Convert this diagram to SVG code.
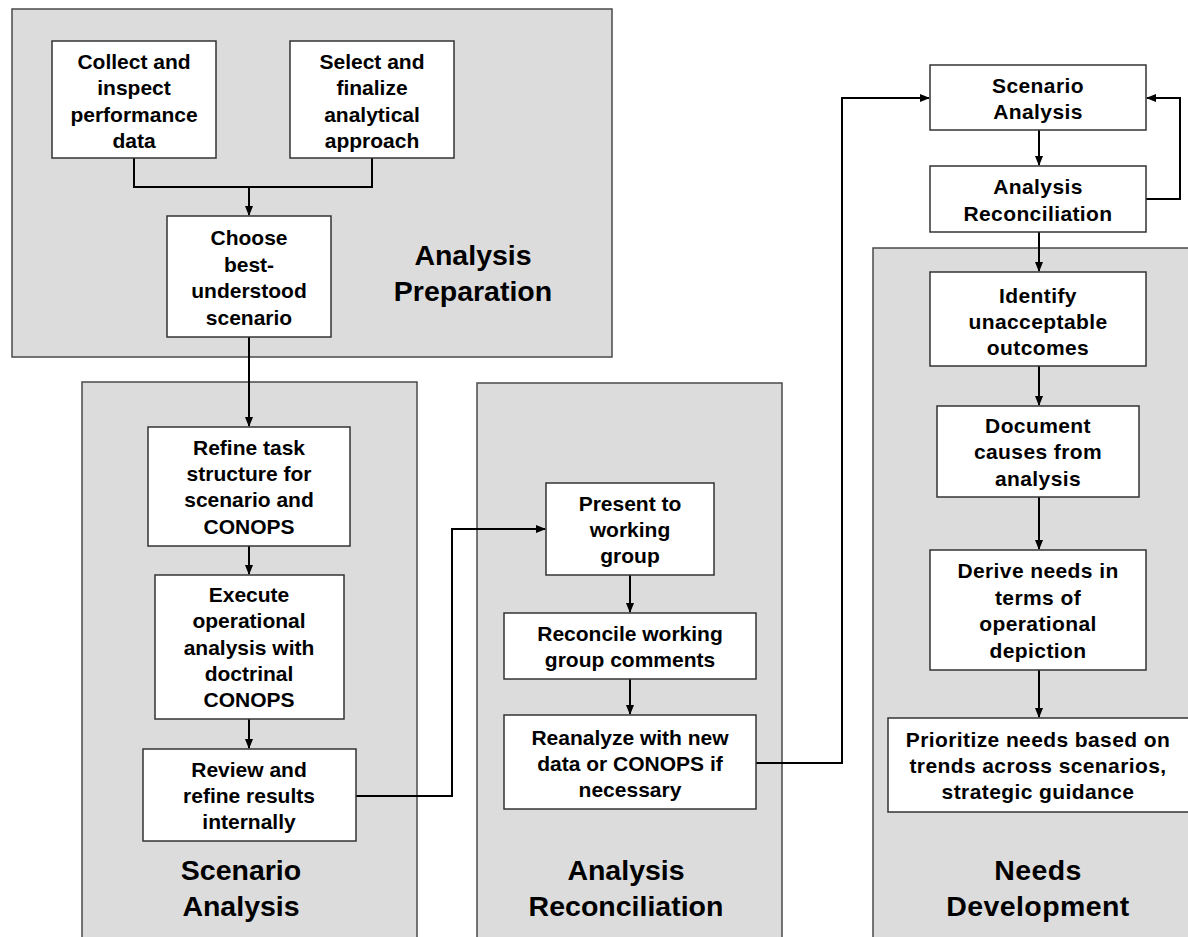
<svg xmlns="http://www.w3.org/2000/svg" width="1188" height="937" viewBox="0 0 1188 937">
<defs>
<marker id="ah" markerWidth="10" markerHeight="10" refX="9" refY="5" orient="auto" markerUnits="userSpaceOnUse">
<path d="M0,1 L10,5 L0,9 Z" fill="#000"/>
</marker>
<style>
.panel{fill:#dcdcdc;stroke:#4a4a4a;stroke-width:1.5}
.box{fill:#fff;stroke:#333;stroke-width:1.5}
.t{font-family:"Liberation Sans",Arial,sans-serif;font-weight:bold;font-size:21px;fill:#000;text-anchor:middle}
.r{letter-spacing:0.4px}
.title{font-family:"Liberation Sans",Arial,sans-serif;font-weight:bold;font-size:28.5px;fill:#000;text-anchor:middle}
.c{fill:none;stroke:#000;stroke-width:2}
</style>
</defs>
<rect width="1188" height="937" fill="#fff"/>
<g id="panels">
<g id="panel-prep"><rect class="panel" x="12" y="9" width="600" height="348"/>
<text class="title" x="473" y="265">Analysis</text><text class="title" x="473" y="301">Preparation</text></g>
<g id="panel-scen"><rect class="panel" x="82" y="382" width="335" height="560"/>
<text class="title" x="241" y="880">Scenario</text><text class="title" x="241" y="916">Analysis</text></g>
<g id="panel-recon"><rect class="panel" x="477" y="383" width="305" height="560"/>
<text class="title" x="626" y="880">Analysis</text><text class="title" x="626" y="916">Reconciliation</text></g>
<g id="panel-needs"><rect class="panel" x="873" y="248" width="320" height="695"/>
<text class="title r" x="1038" y="880">Needs</text><text class="title r" x="1038" y="916">Development</text></g>
</g>
<g id="connectors">
<polyline class="c" points="134,158 134,187 372,187 372,158"/>
<line class="c" x1="249" y1="187" x2="249" y2="215" marker-end="url(#ah)"/>
<line class="c" x1="249" y1="337" x2="249" y2="426" marker-end="url(#ah)"/>
<line class="c" x1="249" y1="546" x2="249" y2="574" marker-end="url(#ah)"/>
<line class="c" x1="249" y1="719" x2="249" y2="748" marker-end="url(#ah)"/>
<polyline class="c" points="356,796 452,796 452,529 545,529" marker-end="url(#ah)"/>
<line class="c" x1="630" y1="575" x2="630" y2="612" marker-end="url(#ah)"/>
<line class="c" x1="630" y1="679" x2="630" y2="714" marker-end="url(#ah)"/>
<polyline class="c" points="756,763 842,763 842,98 929,98" marker-end="url(#ah)"/>
<line class="c" x1="1039" y1="130" x2="1039" y2="165" marker-end="url(#ah)"/>
<polyline class="c" points="1146,199 1180,199 1180,98 1147,98" marker-end="url(#ah)"/>
<line class="c" x1="1039" y1="232" x2="1039" y2="271" marker-end="url(#ah)"/>
<line class="c" x1="1039" y1="366" x2="1039" y2="405" marker-end="url(#ah)"/>
<line class="c" x1="1039" y1="497" x2="1039" y2="549" marker-end="url(#ah)"/>
<line class="c" x1="1039" y1="670" x2="1039" y2="717" marker-end="url(#ah)"/>
</g>
<g id="n-collect"><rect class="box" x="52" y="41" width="164" height="117"/>
<text class="t" x="134" y="69">Collect and</text><text class="t" x="134" y="95">inspect</text><text class="t" x="134" y="122">performance</text><text class="t" x="134" y="148">data</text></g>
<g id="n-select"><rect class="box" x="290" y="41" width="164" height="117"/>
<text class="t" x="372" y="69">Select and</text><text class="t" x="372" y="95">finalize</text><text class="t" x="372" y="122">analytical</text><text class="t" x="372" y="148">approach</text></g>
<g id="n-choose"><rect class="box" x="167" y="216" width="164" height="121"/>
<text class="t" x="249" y="245">Choose</text><text class="t" x="249" y="272">best-</text><text class="t" x="249" y="298">understood</text><text class="t" x="249" y="325">scenario</text></g>
<g id="n-refine"><rect class="box" x="148" y="427" width="202" height="119"/>
<text class="t" x="249" y="455">Refine task</text><text class="t" x="249" y="481">structure for</text><text class="t" x="249" y="507">scenario and</text><text class="t" x="249" y="534">CONOPS</text></g>
<g id="n-execute"><rect class="box" x="155" y="575" width="189" height="144"/>
<text class="t" x="249" y="602">Execute</text><text class="t" x="249" y="628">operational</text><text class="t" x="249" y="655">analysis with</text><text class="t" x="249" y="681">doctrinal</text><text class="t" x="249" y="707">CONOPS</text></g>
<g id="n-review"><rect class="box" x="143" y="749" width="213" height="92"/>
<text class="t" x="249" y="777">Review and</text><text class="t" x="249" y="803">refine results</text><text class="t" x="249" y="829">internally</text></g>
<g id="n-present"><rect class="box" x="546" y="483" width="168" height="92"/>
<text class="t" x="630" y="511">Present to</text><text class="t" x="630" y="537">working</text><text class="t" x="630" y="563">group</text></g>
<g id="n-reconcile"><rect class="box" x="504" y="613" width="252" height="66"/>
<text class="t" x="630" y="641">Reconcile working</text><text class="t" x="630" y="667">group comments</text></g>
<g id="n-reanalyze"><rect class="box" x="504" y="715" width="252" height="94"/>
<text class="t" x="630" y="745">Reanalyze with new</text><text class="t" x="630" y="771">data or CONOPS if</text><text class="t" x="630" y="797">necessary</text></g>
<g id="n-scen-small"><rect class="box" x="930" y="65" width="216" height="65"/>
<text class="t r" x="1038" y="93">Scenario</text><text class="t r" x="1038" y="119">Analysis</text></g>
<g id="n-recon-small"><rect class="box" x="930" y="166" width="216" height="66"/>
<text class="t r" x="1038" y="194">Analysis</text><text class="t r" x="1038" y="221">Reconciliation</text></g>
<g id="n-identify"><rect class="box" x="930" y="272" width="216" height="94"/>
<text class="t r" x="1038" y="303">Identify</text><text class="t r" x="1038" y="329">unacceptable</text><text class="t r" x="1038" y="355">outcomes</text></g>
<g id="n-document"><rect class="box" x="937" y="406" width="202" height="91"/>
<text class="t r" x="1038" y="433">Document</text><text class="t r" x="1038" y="459">causes from</text><text class="t r" x="1038" y="486">analysis</text></g>
<g id="n-derive"><rect class="box" x="930" y="550" width="216" height="120"/>
<text class="t r" x="1038" y="578">Derive needs in</text><text class="t r" x="1038" y="605">terms of</text><text class="t r" x="1038" y="631">operational</text><text class="t r" x="1038" y="658">depiction</text></g>
<g id="n-prioritize"><rect class="box" x="888" y="718" width="302" height="94"/>
<text class="t r" x="1038" y="747">Prioritize needs based on</text><text class="t r" x="1038" y="773">trends across scenarios,</text><text class="t r" x="1038" y="799">strategic guidance</text></g>
</svg>
